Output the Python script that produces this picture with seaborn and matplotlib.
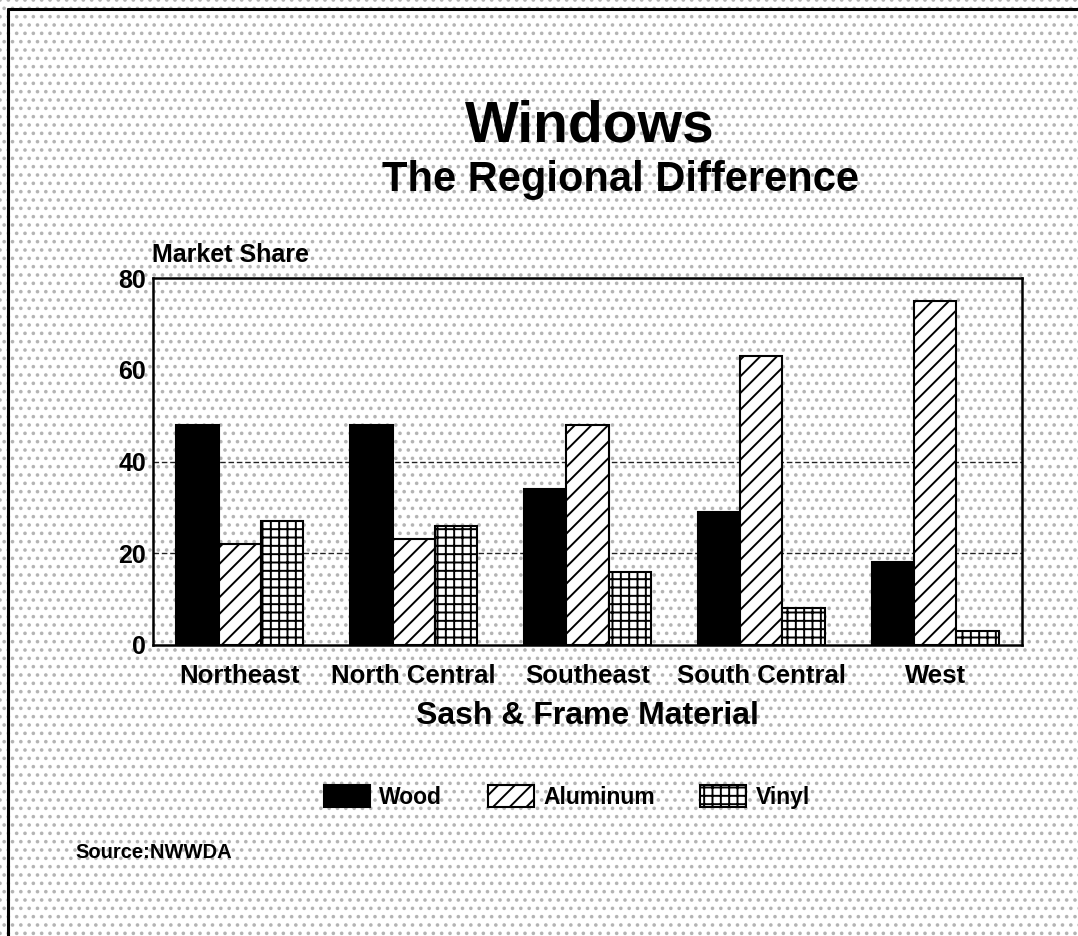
import matplotlib
matplotlib.use("Agg")
import matplotlib.pyplot as plt
import seaborn as sns
import pandas as pd
from matplotlib.patches import Rectangle
from matplotlib.lines import Line2D

regions = ["Northeast", "North Central", "Southeast", "South Central", "West"]
materials = ["Wood", "Aluminum", "Vinyl"]
wood = [48, 48, 34, 29, 18]
aluminum = [22, 23, 48, 63, 75]
vinyl = [27, 26, 16, 8, 3]
y_ticks = [0, 20, 40, 60, 80]

df = pd.DataFrame({
    "Region": regions * 3,
    "Material": ["Wood"] * 5 + ["Aluminum"] * 5 + ["Vinyl"] * 5,
    "Share": wood + aluminum + vinyl,
})

sns.set_theme(style="white")
plt.rcParams["font.family"] = ["Liberation Sans", "DejaVu Sans"]
plt.rcParams["font.weight"] = "bold"
plt.rcParams["text.color"] = "black"
plt.rcParams["hatch.linewidth"] = 1.4

W, H = 1078, 936
fig = plt.figure(figsize=(W / 100, H / 100), dpi=100)
fig.patch.set_facecolor("white")

# dotted halftone background
bg = Rectangle((0, 0), 1, 1, transform=fig.transFigure, facecolor="white",
               edgecolor="#b4b4b4", linewidth=0, hatch="..", zorder=-10)
fig.add_artist(bg)

# page border (top and left)
fig.add_artist(Line2D([8 / W, 1], [1 - 9 / H, 1 - 9 / H], transform=fig.transFigure,
                      color="black", lw=2.2))
fig.add_artist(Line2D([8 / W, 8 / W], [1 - 9 / H, 0], transform=fig.transFigure,
                      color="black", lw=2.2))

ax = fig.add_axes([153 / W, 1 - 645 / H, (1022 - 153) / W, (645 - 278) / H])
ax.patch.set_alpha(0)

palette = {"Wood": "black", "Aluminum": "white", "Vinyl": "white"}
sns.barplot(data=df, x="Region", y="Share", hue="Material", hue_order=materials,
            order=regions, palette=palette, edgecolor="black", linewidth=1.5,
            width=0.73, saturation=1, ax=ax, legend=False, zorder=3)

hatches = ["", "//", "++"]
for cont, h in zip(ax.containers, hatches):
    for p in cont.patches:
        p.set_hatch(h)
        p.set_edgecolor("black")

for yv in [20, 40]:
    ax.axhline(yv, color="#222222", lw=1.0, ls=(0, (4, 2)), zorder=1)

ax.set_ylim(0, 80)
ax.set_yticks(y_ticks)
ax.set_yticklabels([str(v) for v in y_ticks], fontsize=18, fontweight="bold")
ax.tick_params(axis="y", length=0, pad=5, colors="black")
ax.tick_params(axis="x", length=0, pad=14, colors="black")
for lab in ax.get_xticklabels():
    lab.set_fontsize(18.5)
    lab.set_fontweight("bold")
ax.set_xlabel("Sash & Frame Material", fontsize=23, fontweight="bold",
              color="black", labelpad=9)
ax.set_ylabel("")
for s in ax.spines.values():
    s.set_visible(True)
    s.set_color("black")
    s.set_linewidth(1.8)

fig.text(152 / W, 1 - 255 / H, "Market Share", fontsize=18, fontweight="bold",
         ha="left", va="center")
fig.text(590 / W, 1 - 142 / H, "Windows", fontsize=41, fontweight="bold",
         ha="center", va="baseline")
fig.text(620 / W, 1 - 191 / H, "The Regional Difference", fontsize=30,
         fontweight="bold", ha="center", va="baseline")
fig.text(75 / W, 1 - 852 / H, "Source:NWWDA", fontsize=14.5, fontweight="bold",
         ha="left", va="center")

leg = fig.legend(ax.containers, materials, loc="center", ncol=3,
                 bbox_to_anchor=(567 / W, 1 - 797 / H), frameon=False,
                 prop={"size": 16.5, "weight": "bold"}, handlelength=2.0,
                 handleheight=1.05, handletextpad=0.4, columnspacing=2.0)

fig.savefig("out.png", dpi=100)
